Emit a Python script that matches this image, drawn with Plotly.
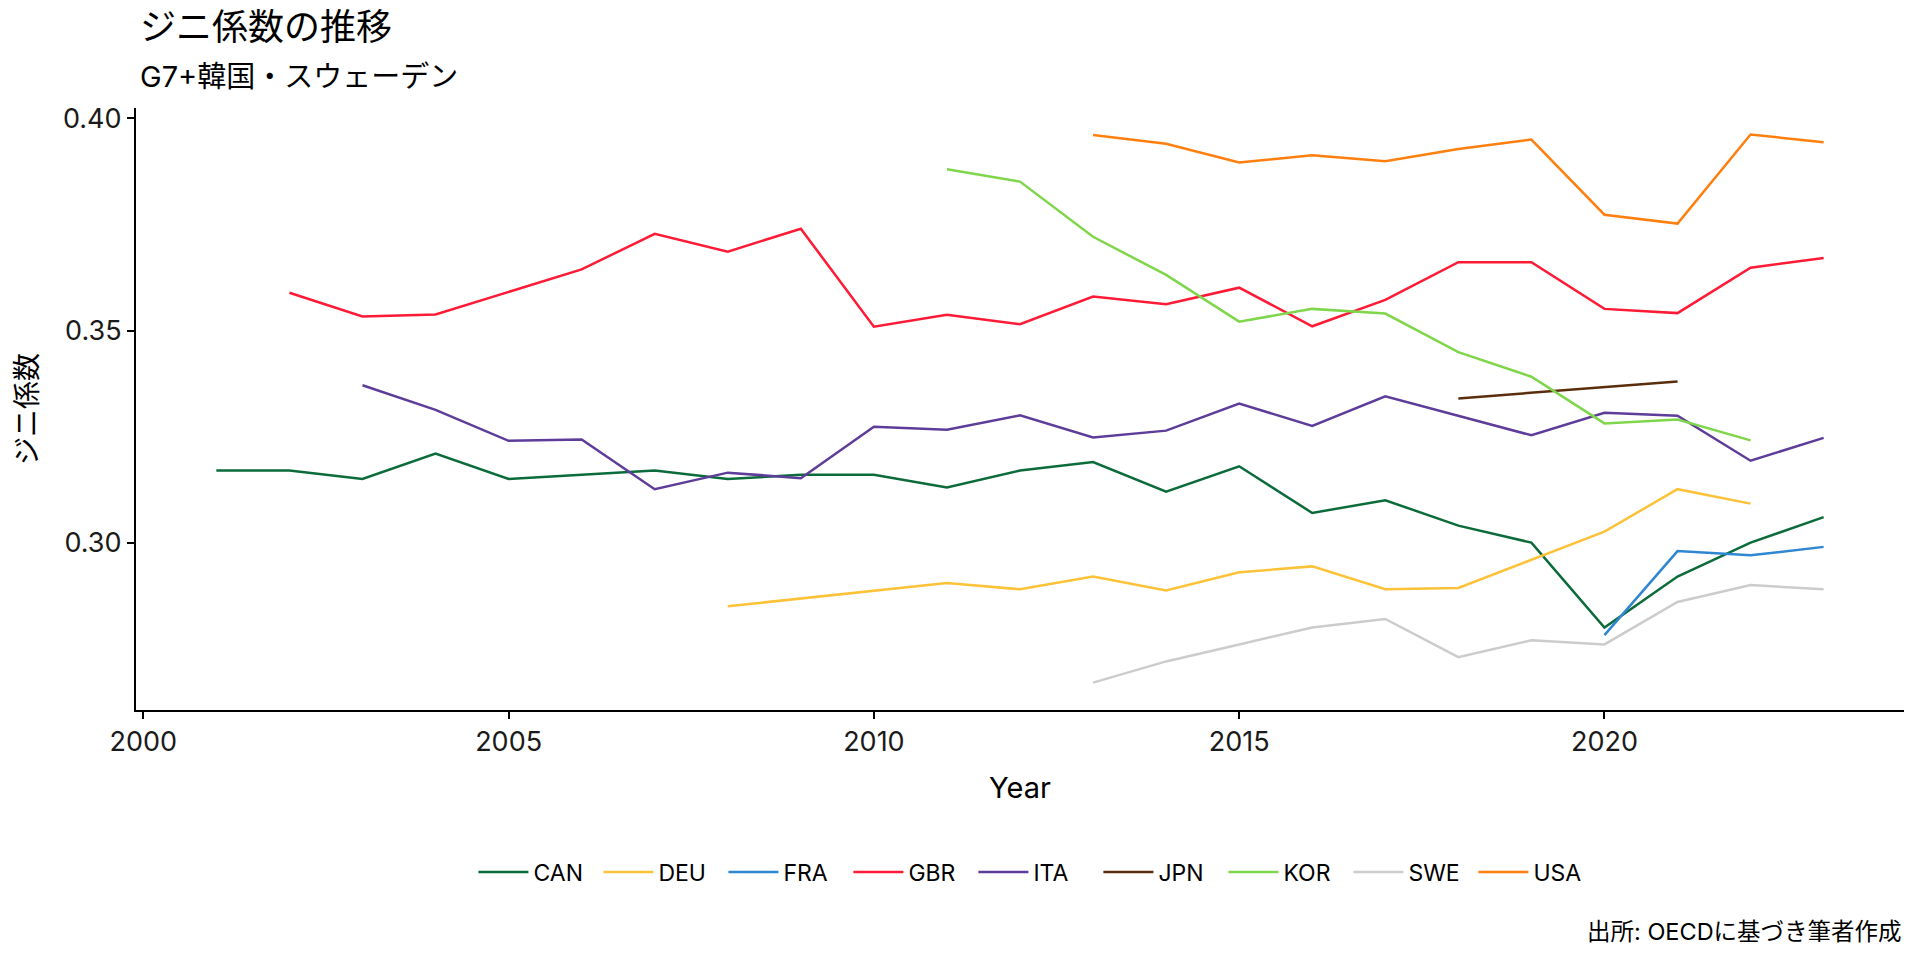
import plotly.graph_objects as go

countries = ["CAN", "DEU", "FRA", "GBR", "ITA", "JPN", "KOR", "SWE", "USA"]
colors = ["#0b6b3a", "#fdc238", "#2f86d1", "#ff1a35", "#5e3c99", "#5a2d0c", "#7fd64b", "#cccccc", "#ff7f0e"]

can_years = list(range(2001, 2024))
can_vals = [0.317, 0.317, 0.315, 0.321, 0.315, 0.316, 0.317, 0.315, 0.316, 0.316, 0.313, 0.317,
            0.319, 0.312, 0.318, 0.307, 0.310, 0.304, 0.300, 0.280, 0.292, 0.300, 0.306]

deu_years = [2008, 2011, 2012, 2013, 2014, 2015, 2016, 2017, 2018, 2020, 2021, 2022]
deu_vals = [0.285, 0.2905, 0.289, 0.292, 0.2887, 0.293, 0.2944, 0.289, 0.2893, 0.3026, 0.3126, 0.3092]

fra_years = [2020, 2021, 2022, 2023]
fra_vals = [0.2782, 0.298, 0.297, 0.299]

gbr_years = list(range(2002, 2024))
gbr_vals = [0.3589, 0.3533, 0.3538, 0.3591, 0.3644, 0.3728, 0.3686, 0.374, 0.3509, 0.3537, 0.3515,
            0.358, 0.3562, 0.3601, 0.351, 0.3572, 0.3661, 0.3661, 0.3551, 0.3541, 0.3648, 0.3671]

ita_years = [2003, 2004, 2005, 2006, 2007, 2008, 2009, 2010, 2011, 2012, 2013, 2014, 2015, 2016,
             2017, 2019, 2020, 2021, 2022, 2023]
ita_vals = [0.3371, 0.3313, 0.324, 0.3243, 0.3126, 0.3165, 0.3152, 0.3273, 0.3266, 0.330, 0.3248,
            0.3264, 0.3328, 0.3275, 0.3345, 0.3253, 0.3306, 0.3299, 0.3193, 0.3247]

jpn_years = [2018, 2021]
jpn_vals = [0.334, 0.338]

kor_years = list(range(2011, 2023))
kor_vals = [0.388, 0.3851, 0.3721, 0.3631, 0.3521, 0.3551, 0.354, 0.3449, 0.3391, 0.3281, 0.329, 0.3241]

swe_years = list(range(2013, 2024))
swe_vals = [0.267, 0.272, 0.276, 0.280, 0.282, 0.273, 0.277, 0.276, 0.286, 0.290, 0.289]

usa_years = list(range(2013, 2024))
usa_vals = [0.3961, 0.394, 0.3896, 0.3913, 0.3899, 0.3928, 0.395, 0.3773, 0.3752, 0.3962, 0.3944]

series = {
    "CAN": (can_years, can_vals),
    "DEU": (deu_years, deu_vals),
    "FRA": (fra_years, fra_vals),
    "GBR": (gbr_years, gbr_vals),
    "ITA": (ita_years, ita_vals),
    "JPN": (jpn_years, jpn_vals),
    "KOR": (kor_years, kor_vals),
    "SWE": (swe_years, swe_vals),
    "USA": (usa_years, usa_vals),
}

title_text = "ジニ係数の推移"
subtitle_text = "G7+韓国・スウェーデン"
x_title = "Year"
y_title = "ジニ係数"
caption_text = "出所: OECDに基づき筆者作成"
x_ticks = [2000, 2005, 2010, 2015, 2020]
y_ticks = [0.30, 0.35, 0.40]

FONT = "Inter, Noto Sans CJK JP, sans-serif"

fig = go.Figure()
for name, color in zip(countries, colors):
    xs, ys = series[name]
    fig.add_trace(go.Scatter(x=xs, y=ys, mode="lines", name=name,
                             line=dict(color=color, width=2.5)))

fig.update_layout(
    width=1920, height=960,
    paper_bgcolor="white", plot_bgcolor="white",
    font=dict(family=FONT, color="black", size=25),
    margin=dict(l=136, r=16, t=108, b=250, autoexpand=False),
    showlegend=True,
    legend=dict(orientation="h", x=0.509, xanchor="center", y=-0.269, yanchor="middle",
                font=dict(size=23, family=FONT), itemwidth=50, entrywidth=60,
                bgcolor="rgba(0,0,0,0)"),
    annotations=[
        dict(text=title_text, xref="paper", yref="paper", x=0.001, y=1 + (108 - 27) / 602,
             xanchor="left", yanchor="middle", showarrow=False, font=dict(size=36, family=FONT)),
        dict(text=subtitle_text, xref="paper", yref="paper", x=0.001, y=1 + (108 - 76) / 602,
             xanchor="left", yanchor="middle", showarrow=False, font=dict(size=29, family=FONT)),
        dict(text=caption_text, xref="paper", yref="paper", x=1, y=(710 - 931) / 602,
             xanchor="right", yanchor="middle", showarrow=False, font=dict(size=23.5, family=FONT)),
    ],
)

fig.update_xaxes(
    range=[1999.9, 2024.1], tickvals=x_ticks, ticktext=[str(v) for v in x_ticks],
    showgrid=False, zeroline=False, showline=True, linecolor="black", linewidth=2,
    ticks="outside", ticklen=7, tickwidth=2, tickcolor="black",
    tickfont=dict(size=27, family=FONT, color="#1a1a1a"),
    title=dict(text=x_title, font=dict(size=29, family=FONT), standoff=20),
    automargin=False,
)
fig.update_yaxes(
    range=[0.26055, 0.40245], tickvals=y_ticks, ticktext=[f"{v:.2f}" for v in y_ticks],
    showgrid=False, zeroline=False, showline=True, linecolor="black", linewidth=2,
    ticks="outside", ticklen=7, tickwidth=2, tickcolor="black",
    tickfont=dict(size=27, family=FONT, color="#1a1a1a"),
    title=dict(text=y_title, font=dict(size=28, family=FONT), standoff=17),
    automargin=False,
)

fig.write_html("out.html", config={"displayModeBar": False},
               post_script="document.body.style.margin='0px';")
